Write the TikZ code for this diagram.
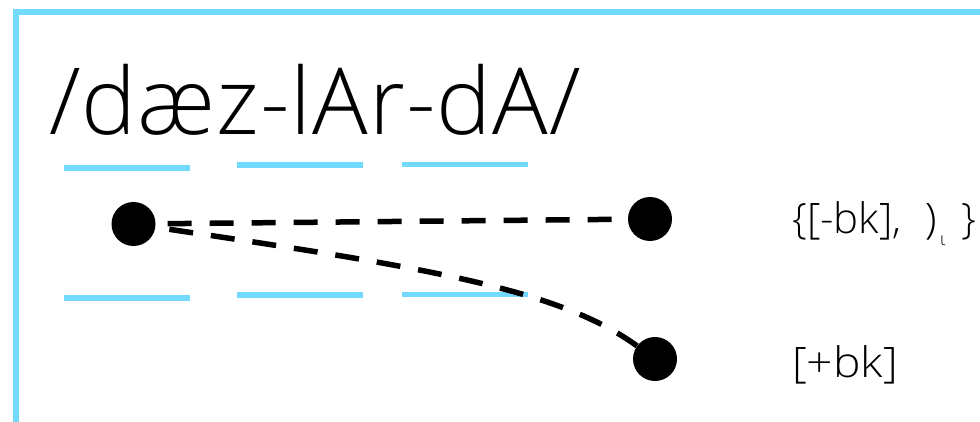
\documentclass[tikz,border=0pt]{standalone}
\usepackage{fontspec}
\setmainfont{Open Sans Light}
\definecolor{lblue}{RGB}{115,218,255}
\begin{document}
\begin{tikzpicture}[x=1pt,y=-1pt,
  uline/.style={draw=lblue,line width=5.5pt},
  dot/.style={circle,fill=black,inner sep=0pt,minimum size=44pt},
  link/.style={line width=5.5pt,dash pattern=on 24pt off 18pt},
  lbl/.style={anchor=base west,inner sep=0pt,font=\fontsize{42}{50}\selectfont}]
\useasboundingbox (0,0) rectangle (980,422);
\clip (0,0) rectangle (980,422);
\fill[white] (0,0) rectangle (980,422);
\draw[lblue,line width=6pt] (16.3,450) -- (16.3,12.3) -- (1000,12.3);
\node[anchor=base west,inner sep=0pt,font=\fontsize{92.5}{110}\selectfont\addfontfeatures{LetterSpace=1}] (word) at (49,135) {/dæz-lAr-dA/};
% underlines
\draw[uline] (64,168) -- (190,168);
\draw[uline] (237,165) -- (363,165);
\draw[uline] (402,164.7) -- (528,164.7);
\draw[uline] (64,298) -- (190,298);
\draw[uline] (237,295) -- (363,295);
\draw[uline] (402,294.7) -- (528,294.7);
% dots
\node[dot] (A) at (133.5,224) {};
\node[dot] (B) at (650,219) {};
\node[dot] (C) at (655,359) {};
\draw[link,shorten <=12pt,shorten >=16pt] (A) -- (B);
\draw[link,shorten <=14pt] (A) .. controls (430,268) and (560,290) .. (C);
\node[lbl] (l1) at (792,234) {\{[-bk],\hspace{13pt} )\hspace{3pt}\raisebox{-11pt}{\fontsize{18}{18}\selectfont ι}\hspace{5pt} \}};
\node[lbl] (l2) at (792,377) {\scalebox{1.1}[1]{[+bk]}};
\end{tikzpicture}
\end{document}
